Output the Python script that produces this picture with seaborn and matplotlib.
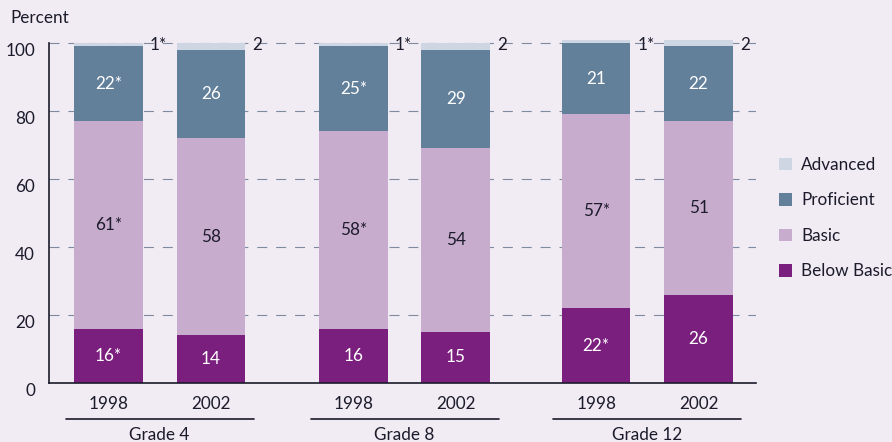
import matplotlib
matplotlib.use("Agg")
import matplotlib.pyplot as plt
import matplotlib.transforms as mtransforms
from matplotlib.patches import Patch
import numpy as np
import seaborn as sns

# Achievement-level shares (percent) by grade and year
grades = ["Grade 4", "Grade 8", "Grade 12"]
years = ["1998", "2002"]
below_basic = [16, 14, 16, 15, 22, 26]
basic = [61, 58, 58, 54, 57, 51]
proficient = [22, 26, 25, 29, 21, 22]
advanced = [1, 2, 1, 2, 1, 2]
below_labels = ["16*", "14", "16", "15", "22*", "26"]
basic_labels = ["61*", "58", "58*", "54", "57*", "51"]
prof_labels = ["22*", "26", "25*", "29", "21", "22"]
adv_labels = ["1*", "2", "1*", "2", "1*", "2"]

BG = "#F1EBF3"
TXT = "#1B1B2B"
C_BELOW = "#7B1F7E"
C_BASIC = "#C8ACCD"
C_PROF = "#63809B"
C_ADV = "#CDD6E2"
GRID = "#7E8A9E"

sns.set_theme(style="white")
plt.rcParams["font.family"] = ["Lato", "DejaVu Sans"]

# bar centres: two years per grade, wider gap between grades
xpos = np.array([0.0, 1.0, 2.39, 3.39, 4.76, 5.76])

fig = plt.figure(figsize=(8.92, 4.42), dpi=100, facecolor=BG)
ax = fig.add_axes([49 / 892, 1 - 383 / 442, (756 - 49) / 892, 374 / 442])
ax.set_facecolor(BG)

b = np.array(below_basic, float)
ba = b + np.array(basic)
pr = ba + np.array(proficient)
ad = pr + np.array(advanced)

# dashed gridlines behind the bars
for g in [20, 40, 60, 80, 100]:
    ax.axhline(g, color=GRID, lw=0.8, ls=(0, (9, 8)), zorder=0)

# stacked bars drawn as cumulative layers, tallest first
for top, col in [(ad, C_ADV), (pr, C_PROF), (ba, C_BASIC), (b, C_BELOW)]:
    sns.barplot(x=xpos, y=top, native_scale=True, width=0.67, color=col,
                saturation=1, errorbar=None, linewidth=0, ax=ax, zorder=2)

fs = 12.3
for i, x in enumerate(xpos):
    ax.text(x, b[i] / 2, below_labels[i], ha="center", va="center", color="white", fontsize=fs, zorder=3)
    ax.text(x, (b[i] + ba[i]) / 2, basic_labels[i], ha="center", va="center", color=TXT, fontsize=fs, zorder=3)
    ax.text(x, (ba[i] + pr[i]) / 2, prof_labels[i], ha="center", va="center", color="white", fontsize=fs, zorder=3)
    ax.text(x + 0.335 + 0.07, 99.3, adv_labels[i], ha="left", va="center", color=TXT, fontsize=fs, zorder=3)

ax.set_xlim(-0.58, 6.32)
ax.set_ylim(0, 110)
ax.set_yticks([0, 20, 40, 60, 80, 100])
ax.set_yticklabels(["0", "20", "40", "60", "80", "100"])
ax.set_xticks(xpos)
ax.set_xticklabels(years * 3)
ax.tick_params(axis="y", length=0, pad=10, labelsize=fs, labelcolor=TXT)
ax.tick_params(axis="x", length=0, pad=9.5, labelsize=fs, labelcolor=TXT)
for lbl in ax.get_yticklabels():
    lbl.set_verticalalignment("top")
ax.set_ylabel("")
ax.set_xlabel("")

for s in ["top", "right"]:
    ax.spines[s].set_visible(False)
ax.spines["left"].set_bounds(0, 100)
ax.spines["left"].set_color(TXT)
ax.spines["bottom"].set_color(TXT)
ax.spines["left"].set_linewidth(1.2)
ax.spines["bottom"].set_linewidth(1.2)

# grade group brackets under the year labels
trans = mtransforms.blended_transform_factory(ax.transData, ax.transAxes)
for gi, name in enumerate(grades):
    c = (xpos[2 * gi] + xpos[2 * gi + 1]) / 2
    ax.plot([c - 0.917, c + 0.917], [-0.097, -0.097], color=TXT, lw=1.2,
            transform=trans, clip_on=False)
    ax.text(c, -0.14, name, ha="center", va="center", fontsize=fs,
            color=TXT, transform=trans)

fig.text(10 / 892, 1 - 18 / 442, "Percent", ha="left", va="center", fontsize=fs, color=TXT)

handles = [Patch(facecolor=c, edgecolor="none") for c in [C_ADV, C_PROF, C_BASIC, C_BELOW]]
leg = fig.legend(handles, ["Advanced", "Proficient", "Basic", "Below Basic"],
                 loc="upper left", bbox_to_anchor=(779 / 892, 1 - 157 / 442),
                 frameon=False, fontsize=fs, handlelength=0.75, handleheight=0.75,
                 handletextpad=0.55, labelspacing=1.14, borderpad=0, borderaxespad=0)
for t in leg.get_texts():
    t.set_color(TXT)

fig.savefig("out.png", dpi=100, facecolor=BG)
